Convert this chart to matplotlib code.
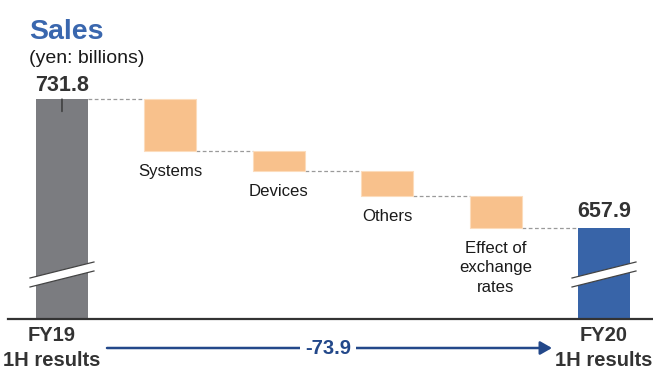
import matplotlib
matplotlib.use("Agg")
import matplotlib.pyplot as plt
import matplotlib.transforms as mtransforms
from matplotlib.patches import Polygon, FancyArrowPatch

plt.rcParams['font.family'] = ['Liberation Sans', 'DejaVu Sans']

# ---- data ----
categories = ["FY19\n1H results", "Systems", "Devices", "Others",
              "Effect of\nexchange\nrates", "FY20\n1H results"]
start_value = 731.8
deltas = [-29.8, -11.5, -14.3, -18.3]
end_value = 657.9
total_change_label = "-73.9"
y_min = 605.8

# ---- colors ----
c_start = "#7b7c80"
c_delta = "#f8c18c"
c_delta_edge = "#fcdcbc"
c_end = "#3864a8"
c_title = "#3a67ae"
c_arrow = "#23488a"
c_text = "#333333"

W, H = 653, 370
fig = plt.figure(figsize=(W / 100, H / 100), dpi=100)
ax = fig.add_axes([8 / W, (H - 319) / H, (W - 8) / W, 259 / H])

x = list(range(len(categories)))
bw = 0.48

# cumulative levels
levels = [start_value]
for d in deltas:
    levels.append(levels[-1] + d)

# start bar
ax.bar(x[0], start_value - y_min, bottom=y_min, width=bw, color=c_start, zorder=2)
# delta bars
for i, d in enumerate(deltas):
    top = levels[i]
    bot = levels[i + 1]
    ax.bar(x[i + 1], top - bot, bottom=bot, width=bw, color=c_delta,
           edgecolor=c_delta_edge, linewidth=0.8, zorder=2)
# end bar
ax.bar(x[-1], end_value - y_min, bottom=y_min, width=bw, color=c_end, zorder=2)

# connectors
for i in range(len(levels)):
    lvl = levels[i]
    ax.plot([x[i] + bw / 2, x[i + 1] - bw / 2], [lvl, lvl], color="#9a9a9a",
            lw=0.9, ls=(0, (3, 2)), zorder=1)

# small tick on start bar
ax.annotate("", xy=(x[0], start_value), xytext=(0, -9), textcoords="offset points",
            arrowprops=dict(arrowstyle="-", color="#333333", lw=1.0,
                            shrinkA=0, shrinkB=0), zorder=3)

# category labels under delta bars
for i in range(len(deltas)):
    ax.annotate(categories[i + 1], xy=(x[i + 1], levels[i + 1]), xytext=(0, -9.3),
                textcoords="offset points", ha="center", va="top",
                fontsize=12.1, color="#1a1a1a", linespacing=1.36)

# value labels
ax.annotate(f"{start_value:.1f}", xy=(x[0], start_value), xytext=(0, 5.8),
            textcoords="offset points", ha="center", va="baseline",
            fontsize=15.5, fontweight="bold", color=c_text)
ax.annotate(f"{end_value:.1f}", xy=(x[-1], end_value), xytext=(0, 7.9),
            textcoords="offset points", ha="center", va="baseline",
            fontsize=15.5, fontweight="bold", color=c_text)

# break marks
trans = mtransforms.blended_transform_factory(ax.transData, ax.transAxes)
ext = 0.295
yb1, yb2 = (319 - 278) / 259, (319 - 262) / 259
gap = 9 / 259
for xi in (x[0], x[-1]):
    poly = Polygon([(xi - ext, yb1), (xi + ext, yb2), (xi + ext, yb2 - gap),
                    (xi - ext, yb1 - gap)], closed=True, facecolor="white",
                   edgecolor="none", transform=trans, zorder=4)
    ax.add_patch(poly)
    ax.plot([xi - ext, xi + ext], [yb1, yb2], color="#444444", lw=0.9,
            transform=trans, zorder=5)
    ax.plot([xi - ext, xi + ext], [yb1 - gap, yb2 - gap], color="#444444", lw=0.9,
            transform=trans, zorder=5)

ax.set_xlim(-0.498, 5.452)
ax.set_ylim(y_min, y_min + 259 / 1.746)
for s in ("top", "right", "left"):
    ax.spines[s].set_visible(False)
ax.spines["bottom"].set_color("#333333")
ax.spines["bottom"].set_linewidth(1.6)
ax.set_xticks([])
ax.set_yticks([])
ax.patch.set_alpha(0)

# FY labels (line by line)
for cx, lbl in ((52, categories[0]), (604, categories[-1])):
    for k, line in enumerate(lbl.split("\n")):
        fig.text(cx / W, 1 - (341 + 25 * k) / H, line, ha="center", va="baseline",
                 fontsize=14.5, fontweight="bold", color=c_text)

# total change arrow
fig.add_artist(FancyArrowPatch(
    (107 / W, 1 - 348 / H), (552 / W, 1 - 348 / H), transform=fig.transFigure,
    arrowstyle="-|>,head_length=7,head_width=4", color=c_arrow, lw=1.8,
    shrinkA=0, shrinkB=0))
fig.text(328 / W, 1 - 348 / H, total_change_label, ha="center", va="center",
         fontsize=14.5, fontweight="bold", color=c_arrow,
         bbox=dict(boxstyle="square,pad=0.25", facecolor="white", edgecolor="none"))

# titles
fig.text(29 / W, 1 - 39 / H, "Sales", ha="left", va="baseline", fontsize=20.5,
         fontweight="bold", color=c_title)
fig.text(29 / W, 1 - 63 / H, "(yen: billions)", ha="left", va="baseline",
         fontsize=14, color="#1a1a1a")

fig.savefig("out.png", dpi=100)
